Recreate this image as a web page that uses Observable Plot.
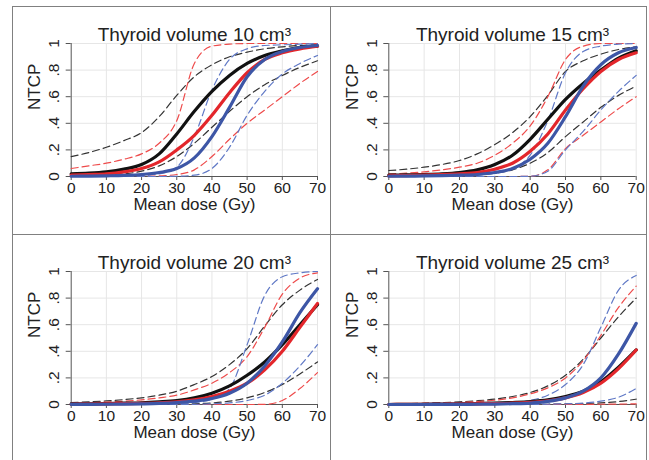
<!DOCTYPE html>
<html>
<head>
<meta charset="utf-8">
<script src="https://cdn.jsdelivr.net/npm/d3@7"></script>
<script src="https://cdn.jsdelivr.net/npm/@observablehq/plot@0.6"></script>
<style>
  html, body { margin: 0; padding: 0; background: #fff; }
  #wrap { position: relative; width: 649px; height: 460px; overflow: hidden; background: #fff;
          font-family: "Liberation Sans", Arial, Helvetica, sans-serif; }
  .panel { position: absolute; }
  .panel svg { overflow: visible; }
  .bline { position: absolute; background: #808080; }
</style>
</head>
<body>
<div id="wrap"></div>
<script>
// ---------- data ----------
const dose = [0, 5, 10, 15, 20, 25, 30, 35, 40, 45, 50, 55, 60, 65, 70];
const xTicks = [0, 10, 20, 30, 40, 50, 60, 70];
const yTicks = [0, 0.2, 0.4, 0.6, 0.8, 1];
const yTickLabels = ["0", ".2", ".4", ".6", ".8", "1"];
const titles = ["Thyroid volume 10 cm³", "Thyroid volume 15 cm³", "Thyroid volume 20 cm³", "Thyroid volume 25 cm³"];
const xLabel = "Mean dose (Gy)";
const yLabel = "NTCP";

// Thyroid volume 10 cm3
const v10Black   = [0.02, 0.025, 0.035, 0.055, 0.09, 0.17, 0.32, 0.49, 0.64, 0.76, 0.85, 0.91, 0.945, 0.97, 0.98];
const v10BlackHi = [0.15, 0.18, 0.22, 0.27, 0.33, 0.45, 0.61, 0.75, 0.84, 0.9, 0.935, 0.96, 0.975, 0.985, 0.99];
const v10BlackLo = [0.005, 0.008, 0.012, 0.02, 0.04, 0.08, 0.15, 0.25, 0.37, 0.49, 0.6, 0.69, 0.76, 0.82, 0.87];
const v10Red     = [0.01, 0.015, 0.02, 0.035, 0.06, 0.11, 0.2, 0.31, 0.46, 0.63, 0.78, 0.88, 0.93, 0.96, 0.98];
const v10RedHi   = [0.06, 0.08, 0.1, 0.13, 0.17, 0.25, 0.42, 0.85, 0.98, 0.995, 1, 1, 1, 1, 1];
const v10RedLo   = [0, 0, 0, 0, 0.002, 0.005, 0.015, 0.05, 0.15, 0.28, 0.4, 0.5, 0.6, 0.7, 0.79];
const v10Blue    = [0.002, 0.003, 0.005, 0.008, 0.015, 0.03, 0.06, 0.14, 0.3, 0.52, 0.75, 0.88, 0.94, 0.97, 0.985];
const v10BlueHi  = [0, 0.001, 0.002, 0.004, 0.008, 0.02, 0.07, 0.3, 0.65, 0.88, 0.96, 0.985, 0.99, 0.995, 1];
const v10BlueLo  = [0, 0, 0, 0, 0, 0, 0.002, 0.01, 0.06, 0.22, 0.46, 0.64, 0.77, 0.85, 0.91];

// Thyroid volume 15 cm3
const v15Black   = [0.01, 0.012, 0.015, 0.02, 0.03, 0.05, 0.09, 0.16, 0.28, 0.43, 0.58, 0.7, 0.8, 0.89, 0.945];
const v15BlackHi = [0.045, 0.055, 0.07, 0.09, 0.12, 0.17, 0.24, 0.33, 0.45, 0.61, 0.79, 0.87, 0.92, 0.955, 0.975];
const v15BlackLo = [0, 0.001, 0.002, 0.004, 0.006, 0.012, 0.025, 0.05, 0.1, 0.18, 0.3, 0.41, 0.52, 0.61, 0.68];
const v15Red     = [0.005, 0.007, 0.01, 0.014, 0.02, 0.03, 0.055, 0.1, 0.19, 0.32, 0.5, 0.66, 0.79, 0.88, 0.93];
const v15RedHi   = [0.02, 0.025, 0.035, 0.05, 0.07, 0.1, 0.16, 0.25, 0.38, 0.6, 0.88, 0.98, 1, 1, 1];
const v15RedLo   = [0, 0, 0, 0, 0, 0, 0, 0, 0.002, 0.05, 0.21, 0.31, 0.41, 0.51, 0.6];
const v15Blue    = [0.002, 0.003, 0.004, 0.006, 0.01, 0.015, 0.03, 0.06, 0.13, 0.25, 0.45, 0.68, 0.84, 0.93, 0.97];
const v15BlueHi  = [0, 0.001, 0.002, 0.004, 0.006, 0.012, 0.025, 0.06, 0.16, 0.42, 0.78, 0.94, 0.98, 0.995, 1];
const v15BlueLo  = [0, 0, 0, 0, 0, 0, 0, 0, 0.002, 0.04, 0.2, 0.34, 0.5, 0.64, 0.76];

// Thyroid volume 20 cm3
const v20Black   = [0.004, 0.005, 0.007, 0.01, 0.013, 0.02, 0.03, 0.05, 0.085, 0.14, 0.22, 0.32, 0.45, 0.6, 0.75];
const v20BlackHi = [0.015, 0.02, 0.027, 0.037, 0.05, 0.07, 0.1, 0.15, 0.21, 0.3, 0.42, 0.59, 0.75, 0.86, 0.94];
const v20BlackLo = [0, 0, 0, 0, 0.001, 0.001, 0.002, 0.005, 0.012, 0.025, 0.05, 0.09, 0.15, 0.23, 0.32];
const v20Red     = [0.002, 0.003, 0.004, 0.006, 0.008, 0.012, 0.02, 0.035, 0.06, 0.1, 0.16, 0.26, 0.4, 0.58, 0.76];
const v20RedHi   = [0.01, 0.013, 0.018, 0.025, 0.035, 0.05, 0.07, 0.11, 0.16, 0.24, 0.36, 0.58, 0.83, 0.95, 0.99];
const v20RedLo   = [0, 0, 0, 0, 0, 0, 0, 0, 0, 0, 0, 0.001, 0.03, 0.12, 0.24];
const v20Blue    = [0.001, 0.0015, 0.002, 0.003, 0.005, 0.008, 0.014, 0.025, 0.045, 0.085, 0.16, 0.29, 0.47, 0.69, 0.87];
const v20BlueHi  = [0, 0, 0.001, 0.001, 0.002, 0.004, 0.008, 0.015, 0.04, 0.12, 0.45, 0.82, 0.96, 0.99, 1];
const v20BlueLo  = [0, 0, 0, 0, 0, 0, 0, 0.001, 0.005, 0.012, 0.03, 0.07, 0.16, 0.29, 0.45];

// Thyroid volume 25 cm3
const v25Black   = [0, 0.001, 0.002, 0.003, 0.005, 0.007, 0.01, 0.015, 0.022, 0.035, 0.06, 0.1, 0.17, 0.28, 0.41];
const v25BlackHi = [0.005, 0.007, 0.01, 0.014, 0.02, 0.028, 0.04, 0.06, 0.09, 0.14, 0.22, 0.34, 0.5, 0.66, 0.8];
const v25BlackLo = [0, 0, 0, 0, 0, 0, 0, 0, 0.001, 0.002, 0.004, 0.007, 0.012, 0.022, 0.04];
const v25Red     = [0, 0.001, 0.001, 0.002, 0.003, 0.005, 0.007, 0.01, 0.016, 0.028, 0.05, 0.09, 0.16, 0.27, 0.41];
const v25RedHi   = [0.004, 0.006, 0.008, 0.011, 0.015, 0.022, 0.032, 0.05, 0.08, 0.125, 0.2, 0.33, 0.52, 0.73, 0.89];
const v25RedLo   = [0, 0, 0, 0, 0, 0, 0, 0, 0, 0, 0.001, 0.001, 0.002, 0.003, 0.005];
const v25Blue    = [0, 0, 0, 0.001, 0.001, 0.002, 0.003, 0.006, 0.011, 0.024, 0.05, 0.1, 0.2, 0.38, 0.61];
const v25BlueHi  = [0, 0, 0.001, 0.001, 0.002, 0.003, 0.005, 0.012, 0.03, 0.07, 0.15, 0.3, 0.58, 0.86, 0.97];
const v25BlueLo  = [0, 0, 0, 0, 0, 0, 0, 0, 0.001, 0.002, 0.005, 0.01, 0.025, 0.055, 0.12];

const panelSeries = [
  {black: v10Black, blackHi: v10BlackHi, blackLo: v10BlackLo, red: v10Red, redHi: v10RedHi, redLo: v10RedLo, blue: v10Blue, blueHi: v10BlueHi, blueLo: v10BlueLo},
  {black: v15Black, blackHi: v15BlackHi, blackLo: v15BlackLo, red: v15Red, redHi: v15RedHi, redLo: v15RedLo, blue: v15Blue, blueHi: v15BlueHi, blueLo: v15BlueLo},
  {black: v20Black, blackHi: v20BlackHi, blackLo: v20BlackLo, red: v20Red, redHi: v20RedHi, redLo: v20RedLo, blue: v20Blue, blueHi: v20BlueHi, blueLo: v20BlueLo},
  {black: v25Black, blackHi: v25BlackHi, blackLo: v25BlackLo, red: v25Red, redHi: v25RedHi, redLo: v25RedLo, blue: v25Blue, blueHi: v25BlueHi, blueLo: v25BlueLo}
];

// ---------- styling / layout ----------
const colors = {black: "#111111", red: "#e3262b", blue: "#3d56a6"};
const dashColors = {black: "#333333", red: "#ee4b4b", blue: "#6079c6"};
const boxes = [
  {left: 12,  top: 6,   w: 318, h: 228, ml: 58.7, mr: 13,   mt: 37, mb: 58},
  {left: 330, top: 6,   w: 316, h: 228, ml: 58.3, mr: 10.3, mt: 37, mb: 58},
  {left: 12,  top: 234, w: 318, h: 226, ml: 58.7, mr: 13,   mt: 37, mb: 56},
  {left: 330, top: 234, w: 316, h: 226, ml: 58.3, mr: 10.3, mt: 37, mb: 56}
];

const wrap = document.getElementById("wrap");

function toRows(values) {
  return values.map((v, i) => ({dose: dose[i], ntcp: v}));
}

boxes.forEach((b, p) => {
  const s = panelSeries[p];
  const dashed = (key, col) => Plot.line(toRows(s[key]), {
    x: "dose", y: "ntcp", stroke: dashColors[col], strokeWidth: 1.2,
    strokeDasharray: "7,4", curve: "monotone-x"
  });
  const solid = (key) => Plot.line(toRows(s[key]), {
    x: "dose", y: "ntcp", stroke: colors[key], strokeWidth: 3.2, curve: "monotone-x"
  });
  const chart = Plot.plot({
    width: b.w, height: b.h,
    marginLeft: b.ml, marginRight: b.mr, marginTop: b.mt, marginBottom: b.mb,
    x: {domain: [0, 70], label: null, axis: null},
    y: {domain: [0, 1], label: null, axis: null},
    style: {background: "transparent", color: "#222", fontFamily: "'Liberation Sans', Arial, Helvetica, sans-serif", overflow: "visible"},
    marks: [
      Plot.gridX(xTicks.slice(1), {stroke: "#e6e6e6", strokeOpacity: 1, strokeWidth: 1}),
      Plot.gridY(yTicks.slice(1), {stroke: "#e6e6e6", strokeOpacity: 1, strokeWidth: 1}),
      Plot.ruleY([0], {stroke: "#555", strokeWidth: 1}),
      Plot.ruleX([0], {stroke: "#555", strokeWidth: 1}),
      Plot.axisX(xTicks, {tickSize: 4, tickPadding: 1, fontSize: 15.5, label: null, stroke: "#555", fill: "#222"}),
      Plot.axisY(yTicks, {tickSize: 5, tickPadding: 7, tickRotate: -90, fontSize: 15.5, label: null,
        tickFormat: d => yTickLabels[yTicks.indexOf(d)], stroke: "#555", fill: "#222"}),
      dashed("blackHi", "black"), dashed("blackLo", "black"),
      dashed("redHi", "red"), dashed("redLo", "red"),
      dashed("blueHi", "blue"), dashed("blueLo", "blue"),
      solid("black"), solid("red"), solid("blue"),
      Plot.text([titles[p]], {frameAnchor: "top", dy: -16, fontSize: 19, fill: "#222"}),
      Plot.text([xLabel], {frameAnchor: "bottom", dy: 33, fontSize: 17, fill: "#222"}),
      Plot.text([yLabel], {frameAnchor: "left", dx: -36.5, rotate: -90, fontSize: 17, fill: "#222"})
    ]
  });
  const div = document.createElement("div");
  div.className = "panel";
  div.style.left = b.left + "px";
  div.style.top = b.top + "px";
  div.appendChild(chart);
  wrap.appendChild(div);
});

// panel frame lines
[
  {left: 12, top: 6, width: 634, height: 1},
  {left: 12, top: 6, width: 1, height: 460},
  {left: 646, top: 6, width: 1, height: 460},
  {left: 330, top: 6, width: 1, height: 460},
  {left: 12, top: 234, width: 634, height: 1}
].forEach(r => {
  const d = document.createElement("div");
  d.className = "bline";
  d.style.left = r.left + "px"; d.style.top = r.top + "px";
  d.style.width = r.width + "px"; d.style.height = r.height + "px";
  wrap.appendChild(d);
});
</script>
</body>
</html>
